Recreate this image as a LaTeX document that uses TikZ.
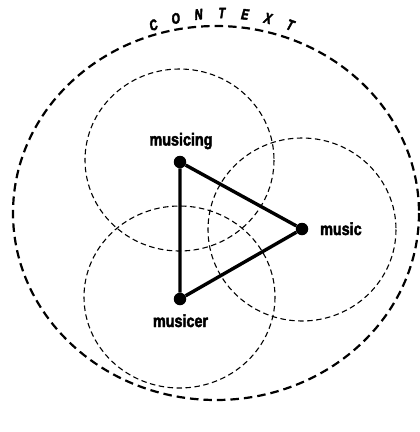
\documentclass[tikz,border=0pt]{standalone}
\usepackage{fontspec}
\usetikzlibrary{calc}
\setmainfont{Liberation Sans}
\newfontfamily\labfont{Liberation Sans Bold}[FakeStretch=0.82, FakeBold=2.5]
\newfontfamily\ctxfont{Liberation Sans Bold}[FakeStretch=0.72, FakeBold=3]
\begin{document}
\begin{tikzpicture}[x=1pt,y=-1pt,
  outerring/.style={line width=2.2pt, dash pattern=on 8.5pt off 5pt},
  innerring/.style={line width=1.1pt, dash pattern=on 5.5pt off 3.5pt},
  dot/.style={circle, fill=black, inner sep=0pt, minimum size=12.5pt},
  edge/.style={line width=3.4pt},
  lab/.style={font=\labfont\fontsize{17.5}{17.5}\selectfont, inner sep=0pt},
  ctx/.style={font=\ctxfont\fontsize{15}{15}\selectfont, inner sep=0pt}]
\useasboundingbox (0,0) rectangle (420,432);
% rings
\draw[outerring] (216,213) ellipse [x radius=203, y radius=187];
\draw[innerring] (179.5,160) ellipse [x radius=94.5, y radius=91];
\draw[innerring] (179.5,297) ellipse [x radius=95.5, y radius=91];
\draw[innerring] (302,229.5) ellipse [x radius=94, y radius=91.5];
% CONTEXT
\foreach \ch [count=\i from 0] in {C,O,N,T,E,X,T} {
  \pgfmathsetmacro{\ang}{110-6.667*\i}
  \node[ctx, rotate=\ang-90, xslant=0.15] (ctx\i) at ($(222,213)+(\ang:200 and -200)$) {\ch};
}
% vertices
\node[dot] (musicing) at (180,162) {};
\node[dot] (music) at (302,229) {};
\node[dot] (musicer) at (180,299) {};
\draw[edge] (musicing) -- (music) -- (musicer) -- (musicing);
% labels
\node[lab, anchor=base] (lmusicing) at (181,145.5) {musicing};
\node[lab, anchor=base west] (lmusic) at (320,235) {music};
\node[lab, anchor=base] (lmusicer) at (180.5,327) {musicer};
\end{tikzpicture}
\end{document}
